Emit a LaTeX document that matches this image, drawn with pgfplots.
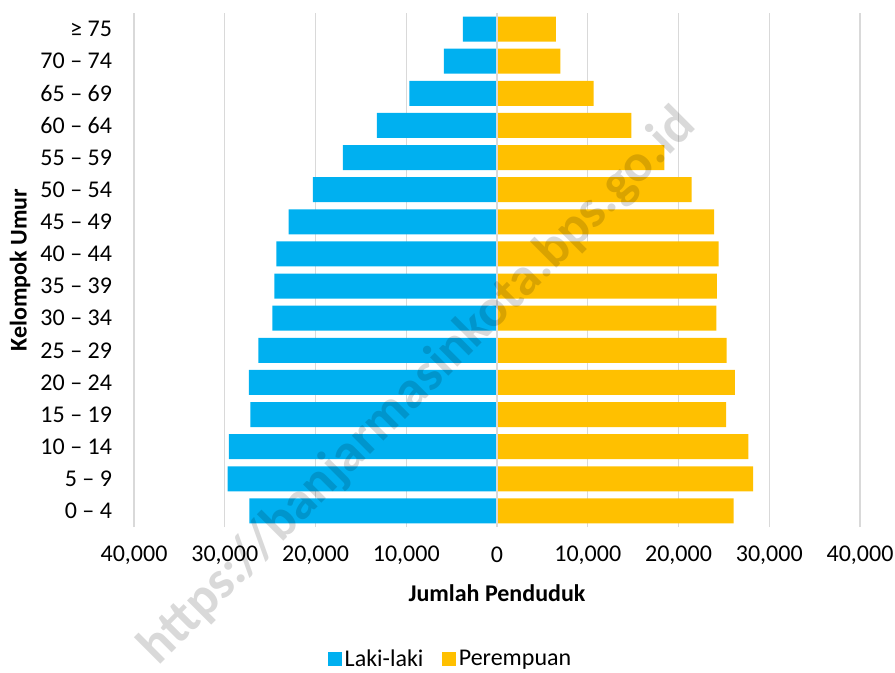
\documentclass[border=0pt]{standalone}
\usepackage{fontspec}
\setmainfont{Carlito}
\usepackage{pgfplots}
\pgfplotsset{compat=1.18}
\definecolor{lakiblue}{HTML}{00B0F0}
\definecolor{perempuanyellow}{HTML}{FFC000}
\definecolor{gridgray}{HTML}{D9D9D9}
\begin{document}
\begin{tikzpicture}[font=\fontsize{18}{21.6}\selectfont]
\path[use as bounding box] (-100.5pt,-108.75pt) rectangle (570.75pt,395.25pt);
\begin{axis}[
  at={(0pt,0pt)}, anchor=south west,
  scale only axis, width=544.5pt, height=385.5pt,
  xmin=-40000, xmax=40000, ymin=-0.5, ymax=15.5,
  scaled x ticks=false,
  xtick={-40000,-30000,-20000,-10000,0,10000,20000,30000,40000},
  xticklabels={{40,000},{30,000},{20,000},{10,000},0,{10,000},{20,000},{30,000},{40,000}},
  ytick={0,...,15},
  yticklabels={0 – 4, 5 – 9, 10 – 14, 15 – 19, 20 – 24, 25 – 29, 30 – 34, 35 – 39, 40 – 44, 45 – 49, 50 – 54, 55 – 59, 60 – 64, 65 – 69, 70 – 74, ≥ 75},
  xticklabel style={anchor=center, yshift=-21pt},
  yticklabel style={anchor=east, xshift=-13pt},
  major tick length=0pt,
  axis line style={draw=none},
  xmajorgrids, grid style={draw=gridgray, line width=1pt},
  xlabel={\bfseries Jumlah Penduduk},
  xlabel style={at={(axis description cs:0.5,0)}, anchor=center, yshift=-49.5pt},
  ylabel={\bfseries Kelompok Umur},
  ylabel style={at={(axis description cs:0,0.5)}, anchor=center, yshift=85.5pt},
  legend style={at={(axis description cs:0.4366,0)}, anchor=center, yshift=-99pt,
    draw=none, fill=none, legend columns=2,
    /tikz/every even column/.append style={column sep=12pt}},
  legend image code/.code={\fill[#1] (0pt,-5.25pt) rectangle (10.5pt,5.25pt);},
]
\addplot[xbar, bar width=0.78, bar shift=0pt, fill=lakiblue, draw=none] coordinates {
  (-27290,0) (-29690,1) (-29550,2) (-27180,3) (-27340,4) (-26300,5) (-24750,6) (-24530,7)
  (-24310,8) (-22950,9) (-20300,10) (-16980,11) (-13230,12) (-9660,13) (-5860,14) (-3760,15)
};
\addlegendentry{Laki-laki}
\addplot[xbar, bar width=0.78, bar shift=0pt, fill=perempuanyellow, draw=none] coordinates {
  (26080,0) (28210,1) (27690,2) (25260,3) (26220,4) (25300,5) (24160,6) (24230,7)
  (24420,8) (23930,9) (21440,10) (18450,11) (14810,12) (10640,13) (6990,14) (6480,15)
};
\addlegendentry{Perempuan}
\addplot[draw=gridgray, line width=1.5pt, forget plot] coordinates {(0,-0.5) (0,15.5)};
\end{axis}
\node[rotate=45, text=black, text opacity=0.15, font=\fontsize{40}{41}\selectfont\bfseries] at (213pt,105pt) {https://banjarmasinkota.bps.go.id};
\end{tikzpicture}
\end{document}
